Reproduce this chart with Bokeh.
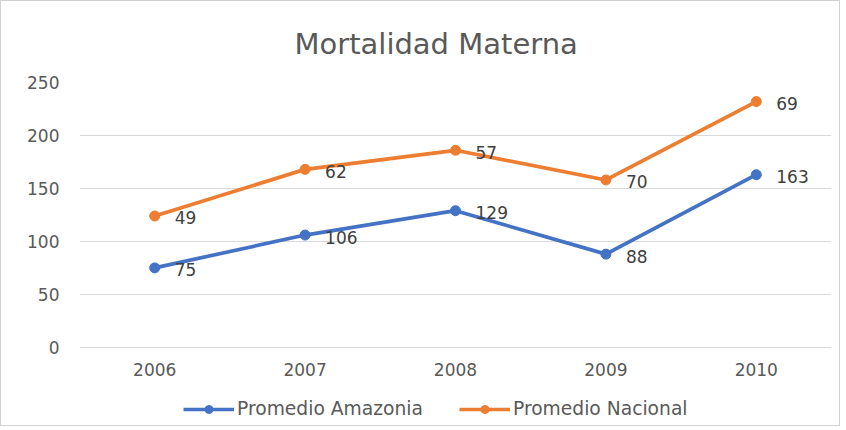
from bokeh.plotting import figure
from bokeh.models import ColumnDataSource, Range1d, FactorRange, Legend, LegendItem, Title
from bokeh.core.properties import value
from bokeh.embed import file_html
from bokeh.resources import INLINE

years = ["2006", "2007", "2008", "2009", "2010"]
amazonia = [75, 106, 129, 88, 163]
nacional = [49, 62, 57, 70, 69]
y_ticks = [0, 50, 100, 150, 200, 250]

# stacked line chart: the national series sits on top of the Amazonia one
nacional_stacked = [a + n for a, n in zip(amazonia, nacional)]

FONT = "DejaVu Sans"
BLUE = "#4472C4"
ORANGE = "#ED7D31"
GRID = "#d9d9d9"
TXT = "#595959"

# frame extends below 0 so the legend fits inside it (only 0..250 gridlines drawn)
p = figure(width=840, height=426, x_range=FactorRange(*years, range_padding=0),
           y_range=Range1d(-70, 250), output_backend="svg", toolbar_location=None,
           min_border_left=78, min_border_right=10, min_border_top=81, min_border_bottom=6)
p.styles = {"border": "1px solid #d0d0d0", "box-sizing": "border-box"}
p.outline_line_color = None
p.background_fill_color = "white"
p.border_fill_color = "white"

t = Title(text="Mortalidad Materna", align="left", text_font=FONT, text_font_size="29px",
          text_color=TXT, text_font_style="normal", offset=215, standoff=43)
p.add_layout(t, "above")

p.xgrid.grid_line_color = None
p.ygrid.grid_line_color = GRID
p.ygrid.grid_line_width = 1
p.yaxis.ticker = y_ticks
p.xaxis.visible = False
ax = p.yaxis[0]
ax.axis_line_color = None
ax.major_tick_line_color = None
ax.minor_tick_line_color = None
ax.major_label_text_font = FONT
ax.major_label_text_font_size = "17px"
ax.major_label_text_color = TXT
ax.major_label_standoff = 14

src = ColumnDataSource(dict(x=years, a=amazonia, n=nacional, ns=nacional_stacked,
                            al=[str(v) for v in amazonia], nl=[str(v) for v in nacional],
                            zero=[0] * len(years)))

# category labels under the zero line
p.text("x", "zero", text="x", source=src, y_offset=22, text_font=value(FONT),
       text_font_size="17px", text_color=TXT, text_align="center", text_baseline="middle")

la = p.line("x", "a", source=src, line_color=BLUE, line_width=3.7)
sa = p.scatter("x", "a", source=src, size=10, fill_color=BLUE, line_color=BLUE)
ln = p.line("x", "ns", source=src, line_color=ORANGE, line_width=3.7)
sn = p.scatter("x", "ns", source=src, size=10, fill_color=ORANGE, line_color=ORANGE)

for col, ycol in (("al", "a"), ("nl", "ns")):
    p.text("x", ycol, text=col, source=src, x_offset=20, y_offset=2,
           text_font=value(FONT), text_font_size="17px", text_color="#404040",
           text_baseline="middle", text_align="left")

legend = Legend(items=[LegendItem(label="Promedio Amazonia", renderers=[la, sa]),
                       LegendItem(label="Promedio Nacional", renderers=[ln, sn])],
                orientation="horizontal", location=(104, 2), glyph_width=51,
                label_standoff=3, spacing=36, padding=0, margin=0,
                label_text_font=FONT, label_text_font_size="18.7px", label_text_color=TXT,
                border_line_color=None, background_fill_alpha=0)
p.add_layout(legend, "center")

open("out.html", "w").write(file_html(p, INLINE))
